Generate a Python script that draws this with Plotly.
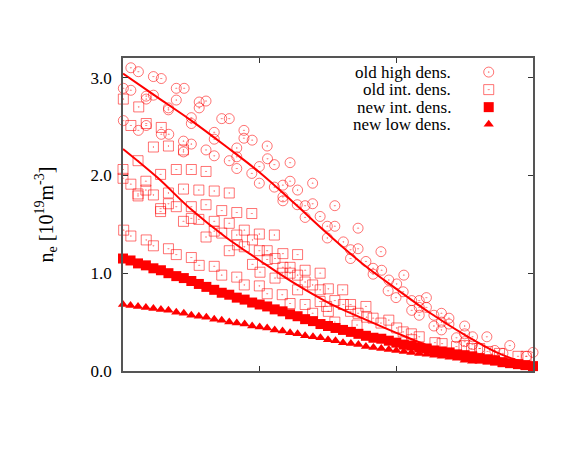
import plotly.graph_objects as go

# normalised radius of the fitted / new profiles
rho_fit = [0.0, 0.1, 0.2, 0.3, 0.4, 0.5, 0.6, 0.7, 0.8, 0.9, 1.0, 1.1, 1.2]
fit_high = [3.04, 2.80, 2.56, 2.30, 2.03, 1.72, 1.40, 1.10, 0.84, 0.59, 0.37, 0.18, 0.06]
fit_int = [2.27, 1.98, 1.65, 1.37, 1.13, 0.90, 0.70, 0.54, 0.39, 0.25, 0.14, 0.07, 0.03]

rho_new = [0.0, 0.022, 0.044, 0.067, 0.089, 0.111, 0.133, 0.156, 0.178, 0.2,
           0.222, 0.244, 0.267, 0.289, 0.311, 0.333, 0.356, 0.378, 0.4, 0.422,
           0.444, 0.467, 0.489, 0.511, 0.533, 0.556, 0.578, 0.6, 0.622, 0.644,
           0.667, 0.689, 0.711, 0.733, 0.756, 0.778, 0.8, 0.822, 0.844, 0.867,
           0.889, 0.911, 0.933, 0.956, 0.978, 1.0, 1.022, 1.044, 1.067, 1.089,
           1.111, 1.133, 1.156, 1.178, 1.2]
new_int = [1.15, 1.13, 1.10, 1.08, 1.05, 1.03, 1.00, 0.97, 0.95, 0.92,
           0.89, 0.86, 0.83, 0.80, 0.78, 0.75, 0.73, 0.70, 0.68, 0.66,
           0.63, 0.61, 0.58, 0.56, 0.53, 0.51, 0.48, 0.46, 0.44, 0.42,
           0.40, 0.38, 0.36, 0.34, 0.33, 0.31, 0.29, 0.27, 0.26, 0.24,
           0.23, 0.21, 0.20, 0.19, 0.17, 0.16, 0.15, 0.13, 0.12, 0.11,
           0.09, 0.08, 0.07, 0.06, 0.05]
new_low = [0.68, 0.67, 0.66, 0.65, 0.64, 0.63, 0.62, 0.60, 0.59, 0.57,
           0.56, 0.55, 0.53, 0.52, 0.50, 0.49, 0.48, 0.46, 0.45, 0.44,
           0.42, 0.41, 0.39, 0.38, 0.36, 0.35, 0.34, 0.32, 0.31, 0.29,
           0.28, 0.27, 0.25, 0.24, 0.23, 0.22, 0.21, 0.20, 0.19, 0.18,
           0.17, 0.16, 0.15, 0.14, 0.13, 0.11, 0.10, 0.10, 0.09, 0.08,
           0.07, 0.06, 0.05, 0.04, 0.03]

# old measurements, high density (open circles)
old_high_x = [0.023, 0.045, 0.089, 0.112, 0.001, 0.023, 0.068, 0.089, 0.068, 0.156,
              0.179, 0.156, 0.133, 0.133, 0.223, 0.243, 0.223, 0.289, 0.311, 0.200,
              0.200, 0.001, 0.045, 0.068, 0.112, 0.134, 0.267, 0.267, 0.354, 0.354,
              0.378, 0.422, 0.177, 0.200, 0.243, 0.333, 0.267, 0.177, 0.333, 0.311,
              0.399, 0.377, 0.399, 0.423, 0.443, 0.489, 0.443, 0.468, 0.489, 0.511,
              0.555, 0.468, 0.468, 0.510, 0.533, 0.555, 0.533, 0.577, 0.598, 0.620,
              0.598, 0.620, 0.333, 0.688, 0.645, 0.666, 0.666, 0.688, 0.711, 0.732,
              0.755, 0.732, 0.778, 0.822, 0.757, 0.801, 0.776, 0.799, 0.820, 0.845,
              0.867, 0.845, 0.867, 0.867, 0.888, 0.888, 0.910, 0.932, 0.932, 0.910,
              0.954, 0.954, 0.976, 1.000, 1.000, 1.000, 1.023, 1.023, 1.044, 1.065,
              1.088, 1.132, 1.112, 1.181, 1.200, 0.932]
old_high_y = [3.10, 3.06, 3.01, 2.99, 2.89, 2.87, 2.81, 2.82, 2.78, 2.89,
              2.89, 2.77, 2.69, 2.67, 2.75, 2.76, 2.69, 2.58, 2.58, 2.59,
              2.53, 2.56, 2.46, 2.51, 2.42, 2.42, 2.44, 2.37, 2.46, 2.38,
              2.36, 2.30, 2.35, 2.32, 2.26, 2.28, 2.20, 2.24, 2.19, 2.15,
              2.09, 2.02, 1.92, 2.17, 2.11, 2.13, 1.88, 1.90, 1.94, 1.85,
              1.92, 1.78, 1.74, 1.70, 1.69, 1.71, 1.57, 1.58, 1.48, 1.69,
              1.36, 1.48, 2.07, 1.46, 1.32, 1.24, 1.15, 1.25, 1.12, 1.05,
              1.22, 0.99, 0.93, 0.98, 1.03, 0.89, 0.82, 0.75, 0.81, 0.72,
              0.72, 0.62, 0.65, 0.57, 0.75, 0.65, 0.57, 0.59, 0.42, 0.46,
              0.54, 0.48, 0.34, 0.46, 0.38, 0.30, 0.35, 0.27, 0.23, 0.35,
              0.21, 0.26, 0.18, 0.15, 0.19, 0.50]

# old measurements, intermediate density (open squares)
old_int_x = [0.001, 0.046, 0.023, 0.068, 0.112, 0.089, 0.133, 0.177, 0.000, 0.000,
             0.023, 0.044, 0.067, 0.067, 0.044, 0.089, 0.110, 0.156, 0.200, 0.243,
             0.133, 0.177, 0.222, 0.267, 0.311, 0.110, 0.110, 0.133, 0.156, 0.200,
             0.243, 0.177, 0.200, 0.222, 0.267, 0.289, 0.311, 0.333, 0.377, 0.044,
             0.002, 0.023, 0.068, 0.089, 0.133, 0.156, 0.200, 0.223, 0.267, 0.243,
             0.267, 0.289, 0.333, 0.355, 0.399, 0.443, 0.311, 0.335, 0.355, 0.379,
             0.399, 0.422, 0.422, 0.445, 0.468, 0.511, 0.379, 0.468, 0.489, 0.533,
             0.289, 0.333, 0.355, 0.399, 0.422, 0.466, 0.489, 0.533, 0.555, 0.596,
             0.577, 0.489, 0.511, 0.533, 0.555, 0.511, 0.577, 0.577, 0.445, 0.466,
             0.601, 0.620, 0.643, 0.601, 0.645, 0.666, 0.666, 0.688, 0.711, 0.713,
             0.732, 0.755, 0.778, 0.801, 0.820, 0.844, 0.867, 0.913, 0.934, 0.976,
             0.998, 1.020, 1.044, 1.067, 1.156, 1.180, 0.401, 0.620, 0.685, 0.845,
             1.102]
old_int_y = [2.78, 2.70, 2.51, 2.53, 2.49, 2.29, 2.30, 2.26, 2.06, 1.97,
             1.91, 1.81, 1.94, 1.85, 1.79, 1.80, 2.01, 2.06, 2.06, 2.04,
             1.82, 1.86, 1.85, 1.84, 1.82, 1.66, 1.63, 1.71, 1.68, 1.68,
             1.70, 1.53, 1.56, 1.55, 1.53, 1.64, 1.51, 1.62, 1.61, 2.15,
             1.44, 1.38, 1.34, 1.28, 1.25, 1.19, 1.16, 1.08, 1.07, 1.37,
             1.43, 1.41, 1.39, 1.44, 1.40, 1.39, 1.23, 1.29, 1.27, 1.34,
             1.23, 1.23, 1.14, 1.15, 1.20, 1.19, 1.09, 1.06, 1.06, 1.03,
             0.98, 0.96, 0.88, 0.87, 0.79, 0.78, 0.69, 0.68, 0.59, 0.66,
             1.00, 1.00, 0.98, 0.91, 0.88, 0.83, 0.83, 0.71, 0.95, 1.00,
             0.84, 0.72, 0.83, 0.61, 0.68, 0.68, 0.61, 0.59, 0.66, 0.55,
             0.54, 0.49, 0.52, 0.44, 0.40, 0.38, 0.35, 0.29, 0.28, 0.25,
             0.26, 0.23, 0.23, 0.20, 0.15, 0.15, 1.01, 0.50, 0.47, 0.32,
             0.18]

legend_labels = ["old high dens.", "old int. dens.", "new int. dens.", "new low dens."]
legend_rows = [0.955, 0.899, 0.843, 0.788]

RED = "#ff0000"
PALE = "rgba(255,0,0,0.55)"
FONT = "Liberation Serif"

styles = [
    dict(symbol="circle-open-dot", size=10, color=PALE, line=dict(width=1, color=PALE)),
    dict(symbol="square-open-dot", size=10, color=PALE, line=dict(width=1, color=PALE)),
    dict(symbol="square", size=10, color=RED, line=dict(width=0)),
    dict(symbol="triangle-up", size=9, color=RED, line=dict(width=0)),
]

fig = go.Figure()

fig.add_trace(go.Scatter(x=old_high_x, y=old_high_y, mode="markers",
                         marker=styles[0], cliponaxis=False))
fig.add_trace(go.Scatter(x=old_int_x, y=old_int_y, mode="markers",
                         marker=styles[1], cliponaxis=False))
fig.add_trace(go.Scatter(x=rho_new, y=new_low, mode="markers",
                         marker=styles[3], cliponaxis=False))
fig.add_trace(go.Scatter(x=rho_new, y=new_int, mode="markers",
                         marker=styles[2], cliponaxis=False))
fig.add_trace(go.Scatter(x=rho_fit, y=fit_high, mode="lines",
                         line=dict(color=RED, width=2, shape="spline")))
fig.add_trace(go.Scatter(x=rho_fit, y=fit_int, mode="lines",
                         line=dict(color=RED, width=2, shape="spline")))

# gnuplot-style key: text right aligned, symbol on the right
for label, row, st in zip(legend_labels, legend_rows, styles):
    fig.add_trace(go.Scatter(x=[0.892], y=[row], mode="markers", marker=st,
                             xaxis="x2", yaxis="y2", cliponaxis=False))
    fig.add_annotation(x=0.805, y=row, xref="paper", yref="paper", text=label,
                       showarrow=False, xanchor="right", yanchor="middle",
                       font=dict(family=FONT, size=17, color="black"))

axis_style = dict(showline=True, linecolor="#555555", linewidth=1.5, mirror="ticks",
                  ticks="inside", ticklen=5, tickcolor="#333333", showgrid=False,
                  zeroline=False)

# the page body adds an 8px margin, so the figure is sized to fit inside it
fig.update_layout(
    width=565, height=433,
    margin=dict(l=115, r=40, t=50, b=70),
    paper_bgcolor="white", plot_bgcolor="white",
    showlegend=False,
    font=dict(family=FONT, size=17, color="black"),
    xaxis=dict(range=[0, 1.2], tickvals=[0.4, 0.8], showticklabels=False, **axis_style),
    yaxis=dict(range=[0, 3.2], tickvals=[0, 1, 2, 3], tickformat=".1f",
               ticklabelstandoff=6,
               title=dict(text="n<sub>e</sub> [10<sup>19</sup>m<sup>-3</sup>]", standoff=32),
               **axis_style),
    xaxis2=dict(overlaying="x", range=[0, 1], visible=False),
    yaxis2=dict(overlaying="y", range=[0, 1], visible=False),
)

fig.write_html("out.html")
